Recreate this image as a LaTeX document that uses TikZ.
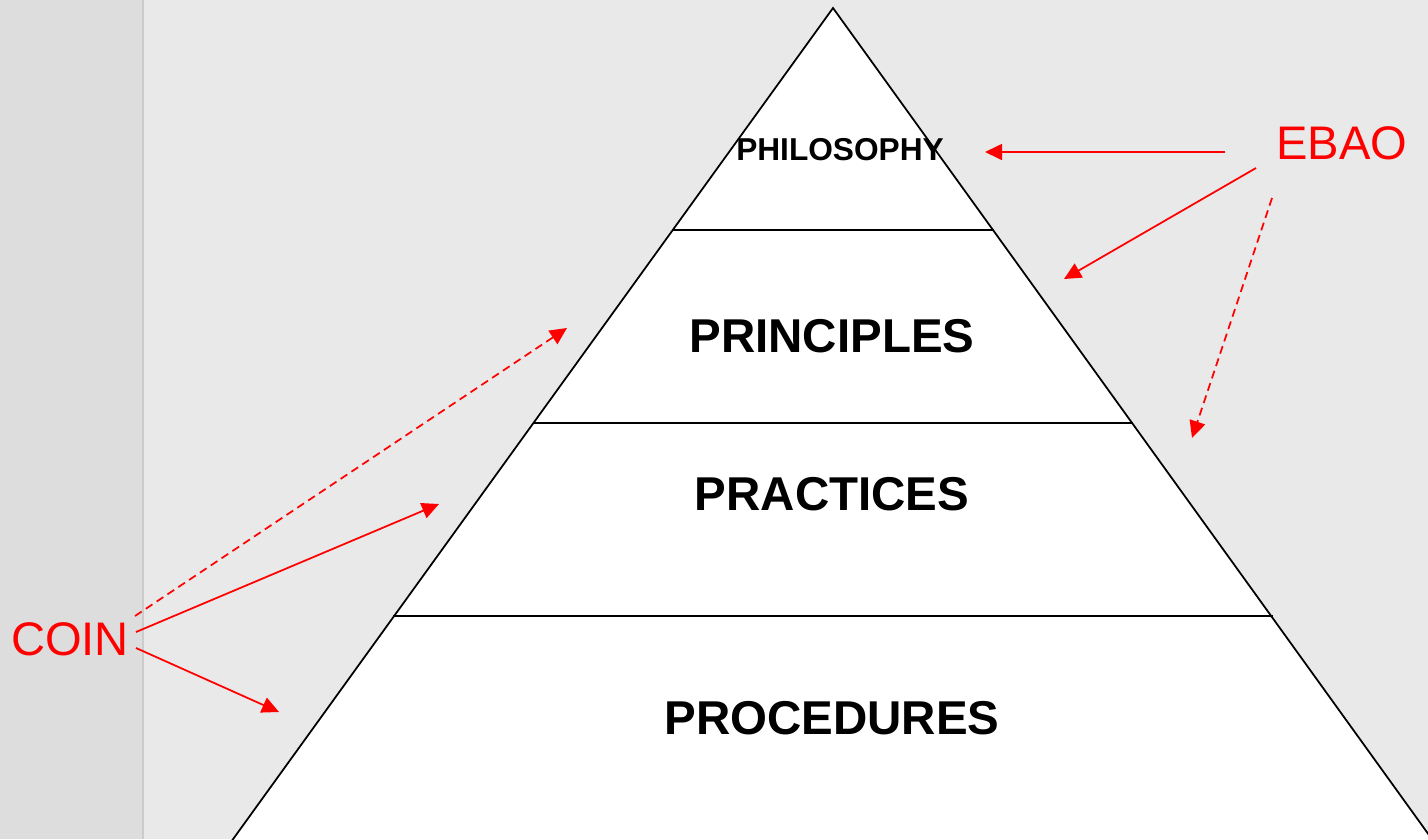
\documentclass[tikz,border=0pt]{standalone}
\usepackage{fontspec}
\setmainfont{Liberation Sans}
\usetikzlibrary{arrows.meta}
\definecolor{paneleft}{RGB}{221,221,221}
\definecolor{paneline}{RGB}{204,204,204}
\definecolor{paneright}{RGB}{233,233,233}

\begin{document}
\begin{tikzpicture}[x=0.01cm, y=-0.01cm]
        %style
        \tikzset{layer/.style = {font=\fontsize{13.5}{16}\selectfont\bfseries, inner sep=0pt}}
        \tikzset{tag/.style = {font=\fontsize{13.4}{16}\selectfont, text=red, inner sep=0pt}}
        \tikzset{link/.style = {draw=red, line width=0.5pt, -{Triangle[length=1.7mm, width=1.6mm]}}}
        \tikzset{hint/.style = {link, dash pattern=on 0.8mm off 0.5mm}}
        \useasboundingbox (0,0) rectangle (1428,839);
        % background
        \fill[paneright] (0,0) rectangle (1428,839);
        \fill[paneleft]  (0,0) rectangle (143,839);
        \draw[paneline, line width=0.6pt] (143,0) -- (143,839);
        % pyramid
        \filldraw[fill=white, line width=0.5pt] (833,8) -- (1447,860) -- (218,860) -- cycle;
        \draw[line width=0.6pt] (672.4,230) -- (993.6,230);
        \draw[line width=0.6pt] (532.9,423) -- (1133.1,423);
        \draw[line width=0.6pt] (393.3,616) -- (1272.7,616);
        \node[layer, font=\fontsize{9}{11}\selectfont\bfseries] (philo) at (840,150) {PHILOSOPHY};
        \node[layer] (princ) at (832,336) {PRINCIPLES};
        \node[layer] (pract) at (832,494) {PRACTICES};
        \node[layer] (proc)  at (832,718) {PROCEDURES};
        \node[tag]   (ebao)  at (1342,143) {EBAO};
        \node[tag]   (coin)  at (70,639)   {COIN};
        % arrow ends
        \coordinate (e1) at (1225,152);
        \coordinate (e2) at (1256,168);
        \coordinate (e3) at (1272,198);
        \coordinate (t1) at (985,152);
        \coordinate (t2) at (1064,279);
        \coordinate (t3) at (1192,438);
        \coordinate (c1) at (135,616);
        \coordinate (c2) at (136,632);
        \coordinate (c3) at (136,648);
        \coordinate (u1) at (567,328);
        \coordinate (u2) at (439,504);
        \coordinate (u3) at (279,712);
        \draw[link] (e1) -- (t1);
        \draw[link] (e2) -- (t2);
        \draw[hint] (e3) -- (t3);
        \draw[hint] (c1) -- (u1);
        \draw[link] (c2) -- (u2);
        \draw[link] (c3) -- (u3);
\end{tikzpicture}
\end{document}
